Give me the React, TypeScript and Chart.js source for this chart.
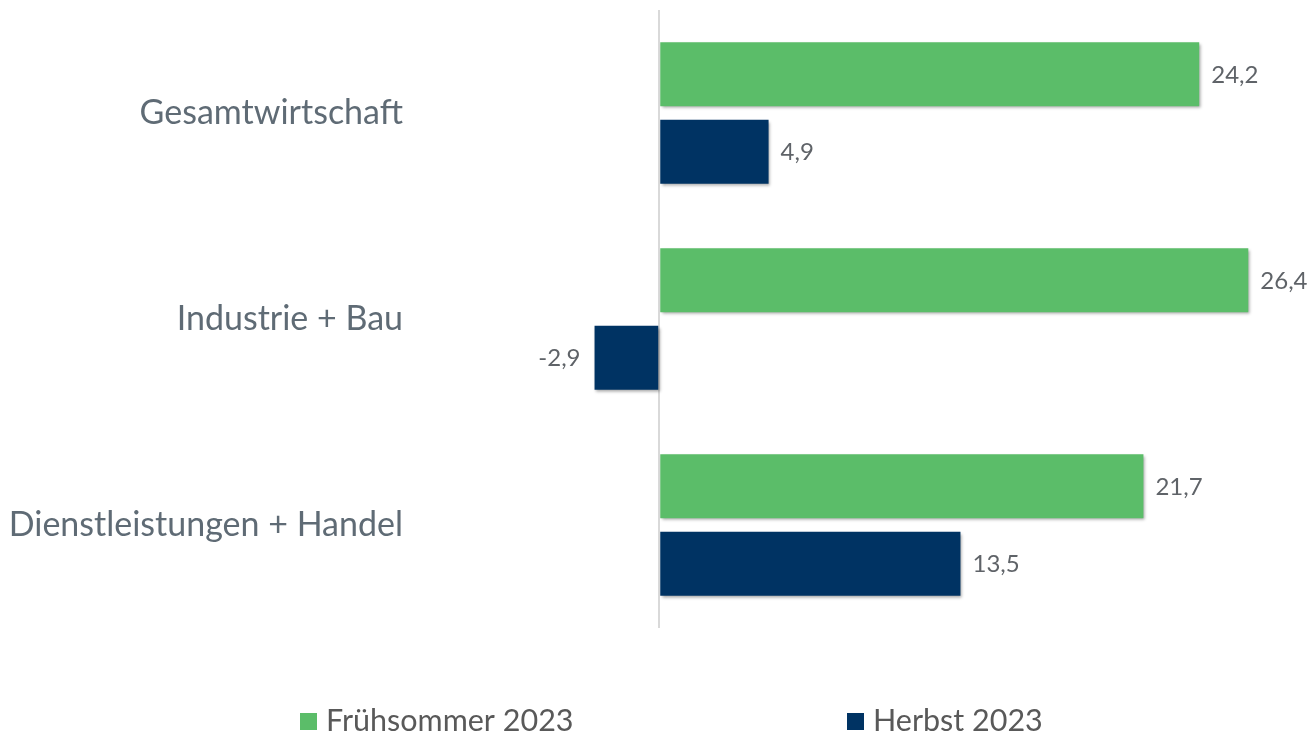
import React, { useEffect, useRef } from "react";
import { Chart, registerables } from "chart.js";

Chart.register(...registerables);

const categories = ["Gesamtwirtschaft", "Industrie + Bau", "Dienstleistungen + Handel"];
const seriesNames = ["Frühsommer 2023", "Herbst 2023"];
const fruehsommer = [24.2, 26.4, 21.7];
const herbst = [4.9, -2.9, 13.5];
const seriesColors = ["#5BBD69", "#003363"];

const FONT = "Lato, 'Open Sans', sans-serif";

const shadowPlugin = {
  id: "barShadow",
  beforeDatasetsDraw(chart: any) {
    const ctx = chart.ctx;
    ctx.save();
    ctx.shadowColor = "rgba(0,0,0,0.35)";
    ctx.shadowBlur = 3;
    ctx.shadowOffsetX = 1.5;
    ctx.shadowOffsetY = 2;
  },
  afterDatasetsDraw(chart: any) {
    chart.ctx.restore();
  },
};

const valueLabelPlugin = {
  id: "valueLabels",
  afterDatasetsDraw(chart: any) {
    const ctx = chart.ctx;
    ctx.save();
    ctx.font = `24px ${FONT}`;
    ctx.fillStyle = "#5f6368";
    ctx.textBaseline = "middle";
    chart.data.datasets.forEach((ds: any, di: number) => {
      const meta = chart.getDatasetMeta(di);
      meta.data.forEach((bar: any, i: number) => {
        const v = ds.data[i] as number;
        const txt = v.toFixed(1).replace(".", ",");
        if (v >= 0) {
          ctx.textAlign = "left";
          ctx.fillText(txt, bar.x + 12, bar.y + 1);
        } else {
          ctx.textAlign = "right";
          ctx.fillText(txt, bar.x - 14, bar.y + 1);
        }
      });
    });
    ctx.restore();
  },
};

const legendPlugin = {
  id: "customLegend",
  afterDraw(chart: any) {
    const ctx = chart.ctx;
    const starts = [292, 839];
    const y = chart.height - 13;
    ctx.save();
    ctx.font = `30.5px ${FONT}`;
    ctx.textBaseline = "middle";
    ctx.textAlign = "left";
    seriesNames.forEach((name, i) => {
      ctx.fillStyle = seriesColors[i];
      ctx.fillRect(starts[i], y - 8, 17, 17);
      ctx.fillStyle = "#595959";
      ctx.fillText(name, starts[i] + 26, y);
    });
    ctx.restore();
  },
};

export default function App() {
  const ref = useRef<HTMLCanvasElement>(null);
  useEffect(() => {
    if (!ref.current) return;
    const chart = new Chart(ref.current, {
      type: "bar",
      data: {
        labels: categories,
        datasets: [
          { label: seriesNames[0], data: fruehsommer, backgroundColor: seriesColors[0] },
          { label: seriesNames[1], data: herbst, backgroundColor: seriesColors[1] },
        ],
      },
      options: {
        indexAxis: "y",
        animation: false,
        responsive: true,
        maintainAspectRatio: false,
        datasets: { bar: { categoryPercentage: 0.752, barPercentage: 0.826 } },
        layout: { padding: { top: 2, right: 24, bottom: 106, left: 0 } },
        plugins: {
          legend: { display: false },
          tooltip: { enabled: false },
        },
        scales: {
          x: {
            min: -4,
            max: 28,
            ticks: { display: false, stepSize: 4 },
            border: { display: false },
            grid: {
              drawTicks: false,
              lineWidth: 2,
              color: (c: any) => (c.tick && c.tick.value === 0 ? "#d9d9d9" : "rgba(0,0,0,0)"),
            },
          },
          y: {
            afterFit: (scale: any) => {
              scale.width = 562;
              scale.paddingTop = 0;
              scale.paddingBottom = 0;
            },
            border: { display: false },
            grid: { display: false, drawTicks: false },
            ticks: {
              padding: 167,
              color: "#5f6b75",
              font: { family: FONT, size: 34 },
            },
          },
        },
      },
      plugins: [shadowPlugin, valueLabelPlugin, legendPlugin],
    });
    return () => chart.destroy();
  }, []);
  return (
    <div style={{ position: "relative", width: "1300px", height: "726px" }}>
      <canvas ref={ref} />
    </div>
  );
}
